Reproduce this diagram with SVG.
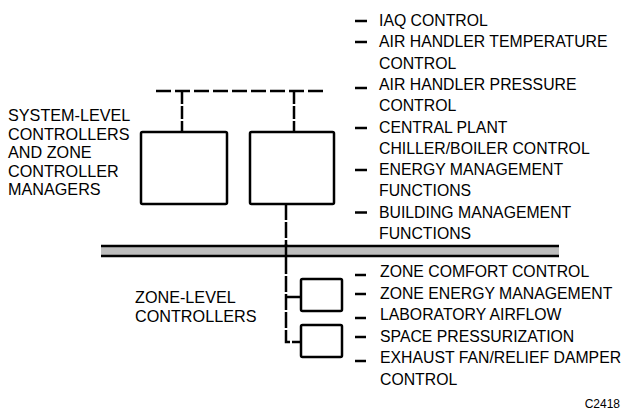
<svg xmlns="http://www.w3.org/2000/svg" width="626" height="417" viewBox="0 0 626 417">
<style>
text{font-family:"Liberation Sans",Arial,sans-serif;font-size:15.8px;fill:#000}
.lt{font-size:16.2px}
.box{fill:#fff;stroke:#000;stroke-width:2.5}
.ln{fill:none;stroke:#000;stroke-width:2.5}
.dash{stroke:#000;stroke-width:2.5}
</style>
<rect width="626" height="417" fill="#fff"/>
<g id="connectors">
<line class="ln" x1="156" y1="91" x2="323" y2="91" stroke-dasharray="15 4"/>
<line class="ln" x1="182" y1="91" x2="182" y2="132" stroke-dasharray="13 2"/>
<line class="ln" x1="294" y1="91" x2="294" y2="132" stroke-dasharray="13 2"/>
<polyline class="ln" points="286,204 286,342 301,342" stroke-dasharray="16 2"/>
<line class="ln" x1="286" y1="297" x2="301" y2="297"/>
</g>
<g id="bus">
<rect x="101" y="246" width="458" height="10" fill="#bdbdbd"/>
<line class="ln" x1="101" y1="246" x2="559" y2="246"/>
<line class="ln" x1="101" y1="256" x2="559" y2="256"/>
<line class="ln" x1="286" y1="244" x2="286" y2="258"/>
</g>
<g id="sys1"><rect class="box" x="141" y="132" width="86" height="72" rx="1.5"/></g>
<g id="sys2"><rect class="box" x="250" y="132" width="84" height="72" rx="1.5"/></g>
<g id="zone1"><rect class="box" x="301" y="279" width="41" height="32" rx="1.5"/></g>
<g id="zone2"><rect class="box" x="301" y="325" width="41" height="32" rx="1.5"/></g>
<g id="label-system" class="lt">
<text class="lt" x="8" y="121">SYSTEM-LEVEL</text>
<text class="lt" x="8" y="139.5">CONTROLLERS</text>
<text class="lt" x="8" y="158">AND ZONE</text>
<text class="lt" x="8" y="176.5">CONTROLLER</text>
<text class="lt" x="8" y="195">MANAGERS</text>
</g>
<g id="label-zone">
<text class="lt" x="135" y="303">ZONE-LEVEL</text>
<text class="lt" x="135" y="321.5">CONTROLLERS</text>
</g>
<g id="list-system">
<line class="dash" x1="355" y1="21" x2="367" y2="21"/><text x="379" y="26">IAQ CONTROL</text>
<line class="dash" x1="355" y1="42" x2="367" y2="42"/><text x="379" y="47.3">AIR HANDLER TEMPERATURE</text>
<text x="379" y="68.6">CONTROL</text>
<line class="dash" x1="355" y1="88" x2="367" y2="88"/><text x="379" y="89.9">AIR HANDLER PRESSURE</text>
<text x="379" y="111.2">CONTROL</text>
<line class="dash" x1="355" y1="128" x2="367" y2="128"/><text x="379" y="132.5">CENTRAL PLANT</text>
<text x="379" y="153.8">CHILLER/BOILER CONTROL</text>
<line class="dash" x1="355" y1="170" x2="367" y2="170"/><text x="379" y="175.1">ENERGY MANAGEMENT</text>
<text x="379" y="196.4">FUNCTIONS</text>
<line class="dash" x1="355" y1="212.5" x2="367" y2="212.5"/><text x="379" y="217.7">BUILDING MANAGEMENT</text>
<text x="379" y="239">FUNCTIONS</text>
</g>
<g id="list-zone">
<line class="dash" x1="355" y1="275" x2="366" y2="275"/><text x="380" y="277">ZONE COMFORT CONTROL</text>
<line class="dash" x1="355" y1="294" x2="366" y2="294"/><text x="380" y="298.6">ZONE ENERGY MANAGEMENT</text>
<line class="dash" x1="355" y1="318" x2="366" y2="318"/><text x="380" y="320.2">LABORATORY AIRFLOW</text>
<line class="dash" x1="355" y1="337" x2="366" y2="337"/><text x="380" y="341.8">SPACE PRESSURIZATION</text>
<line class="dash" x1="355" y1="361" x2="366" y2="361"/><text x="380" y="363.4">EXHAUST FAN/RELIEF DAMPER</text>
<text x="380" y="385">CONTROL</text>
</g>
<text x="620" y="408" text-anchor="end" style="font-size:12px">C2418</text>
</svg>
